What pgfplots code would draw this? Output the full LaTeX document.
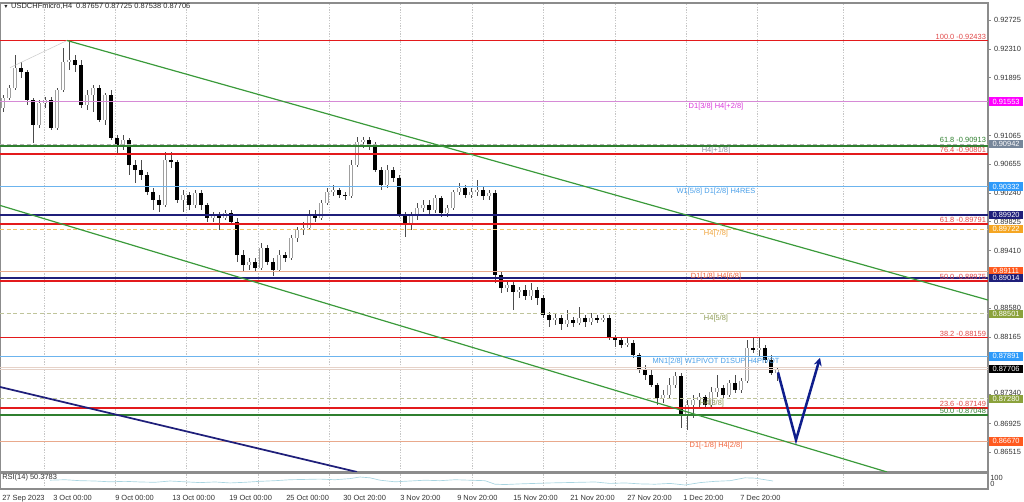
\documentclass[border=0pt]{standalone}
\usepackage{fontspec}
\setmainfont{Liberation Sans}
\usepackage{pgfplots}
\pgfplotsset{compat=1.18}
\usepackage{pgfplotstable}
\usetikzlibrary{arrows.meta}

\definecolor{lvlred}{HTML}{E31A1C}
\definecolor{fibred}{HTML}{E04848}
\definecolor{chgreen}{HTML}{3A9A3A}
\definecolor{fibgreen}{HTML}{2F7F2F}
\definecolor{navyline}{HTML}{1F1F7A}
\definecolor{skyline}{HTML}{6CB4EE}
\definecolor{skybox}{HTML}{2F9BFA}
\definecolor{skytext}{HTML}{4A9FE8}
\definecolor{orchidline}{HTML}{D68AD6}
\definecolor{magbox}{HTML}{FF00FF}
\definecolor{magtext}{HTML}{D936D9}
\definecolor{orgline}{HTML}{F2C46A}
\definecolor{orgbox}{HTML}{F5A623}
\definecolor{orgtext}{HTML}{EFA33A}
\definecolor{salmline}{HTML}{E9A98C}
\definecolor{redbox}{HTML}{FF5A1F}
\definecolor{redtext}{HTML}{F0643C}
\definecolor{oliveline}{HTML}{BFC49A}
\definecolor{olivebox}{HTML}{8BA23C}
\definecolor{olivetext}{HTML}{8E9C55}
\definecolor{grayline}{HTML}{B4B4B4}
\definecolor{graybox}{HTML}{76869A}
\definecolor{graytext}{HTML}{8A8FA0}
\definecolor{curline}{HTML}{E6D2C8}
\definecolor{rsiline}{HTML}{A8D4E0}
\definecolor{arrowblue}{HTML}{0F1E8C}
\definecolor{framegray}{HTML}{8C8C8C}

\newcommand\lbl{\fontsize{5.6}{6}\selectfont}

% H4 candles, two bars per row
\pgfplotstableread{
o h l c
0.9146 0.9165 0.9140 0.9160
0.9160 0.9179 0.9158 0.9175
0.9175 0.9222 0.9172 0.9204
0.9204 0.9212 0.9189 0.9198
0.9198 0.9201 0.9150 0.9158
0.9158 0.9160 0.9096 0.9122
0.9122 0.9158 0.9117 0.9153
0.9153 0.9162 0.9146 0.9158
0.9158 0.9162 0.9114 0.9117
0.9117 0.9175 0.9114 0.9172
0.9172 0.9232 0.9169 0.9212
0.9212 0.9243 0.9201 0.9215
0.9215 0.9222 0.9198 0.9208
0.9208 0.9215 0.9146 0.9150
0.9150 0.9172 0.9143 0.9165
0.9165 0.9179 0.9140 0.9175
0.9175 0.9179 0.9126 0.9129
0.9129 0.9168 0.9122 0.9165
0.9165 0.9172 0.9100 0.9103
0.9103 0.9107 0.9081 0.9093
0.9093 0.9107 0.9086 0.9100
0.9100 0.9103 0.9050 0.9064
0.9064 0.9071 0.9038 0.9057
0.9057 0.9071 0.9043 0.9050
0.9050 0.9054 0.9021 0.9025
0.9025 0.9031 0.8999 0.9014
0.9014 0.9021 0.8997 0.9007
0.9007 0.9083 0.9004 0.9071
0.9071 0.9083 0.9060 0.9068
0.9068 0.9071 0.9010 0.9014
0.9014 0.9028 0.8997 0.9021
0.9021 0.9025 0.8999 0.9007
0.9007 0.9028 0.9002 0.9024
0.9024 0.9028 0.8999 0.9007
0.9007 0.9010 0.8982 0.8988
0.8988 0.8997 0.8982 0.8992
0.8992 0.8997 0.8971 0.8988
0.8988 0.8999 0.8985 0.8995
0.8995 0.8999 0.8978 0.8982
0.8982 0.8988 0.8925 0.8935
0.8935 0.8942 0.8910 0.8920
0.8920 0.8930 0.8913 0.8925
0.8925 0.8930 0.8910 0.8916
0.8916 0.8952 0.8913 0.8945
0.8945 0.8949 0.8920 0.8925
0.8925 0.8930 0.8905 0.8913
0.8913 0.8942 0.8910 0.8935
0.8935 0.8939 0.8925 0.8930
0.8930 0.8964 0.8928 0.8959
0.8959 0.8975 0.8953 0.8971
0.8971 0.8982 0.8964 0.8974
0.8974 0.8999 0.8971 0.8992
0.8992 0.8999 0.8982 0.8988
0.8988 0.9014 0.8985 0.9010
0.9010 0.9031 0.9007 0.9025
0.9025 0.9035 0.9020 0.9028
0.9028 0.9031 0.9017 0.9021
0.9021 0.9025 0.9014 0.9020
0.9020 0.9071 0.9017 0.9064
0.9064 0.9104 0.9061 0.9097
0.9097 0.9104 0.9089 0.9100
0.9100 0.9104 0.9086 0.9093
0.9093 0.9097 0.9054 0.9057
0.9057 0.9061 0.9028 0.9035
0.9035 0.9064 0.9031 0.9057
0.9057 0.9061 0.9040 0.9045
0.9045 0.9050 0.8989 0.8992
0.8992 0.8997 0.8961 0.8978
0.8978 0.8997 0.8971 0.8992
0.8992 0.9010 0.8985 0.9002
0.9002 0.9014 0.8997 0.9007
0.9007 0.9014 0.8992 0.8999
0.8999 0.9021 0.8995 0.9017
0.9017 0.9020 0.8989 0.8995
0.8995 0.9007 0.8989 0.9002
0.9002 0.9028 0.8999 0.9025
0.9025 0.9038 0.9021 0.9031
0.9031 0.9035 0.9017 0.9021
0.9021 0.9031 0.9017 0.9025
0.9025 0.9043 0.9020 0.9028
0.9028 0.9033 0.9014 0.9020
0.9020 0.9028 0.9014 0.9024
0.9024 0.9028 0.8895 0.8906
0.8906 0.8910 0.8880 0.8887
0.8887 0.8899 0.8882 0.8892
0.8892 0.8899 0.8856 0.8882
0.8882 0.8889 0.8873 0.8884
0.8884 0.8892 0.8870 0.8876
0.8876 0.8895 0.8870 0.8884
0.8884 0.8889 0.8863 0.8873
0.8873 0.8877 0.8844 0.8848
0.8848 0.8853 0.8831 0.8841
0.8841 0.8851 0.8834 0.8844
0.8844 0.8848 0.8827 0.8836
0.8836 0.8856 0.8831 0.8841
0.8841 0.8846 0.8831 0.8837
0.8837 0.8860 0.8834 0.8844
0.8844 0.8848 0.8831 0.8838
0.8838 0.8851 0.8834 0.8844
0.8844 0.8848 0.8837 0.8841
0.8841 0.8848 0.8838 0.8844
0.8844 0.8848 0.8813 0.8815
0.8815 0.8820 0.8803 0.8813
0.8813 0.8817 0.8801 0.8805
0.8805 0.8815 0.8803 0.8808
0.8808 0.8813 0.8787 0.8791
0.8791 0.8794 0.8765 0.8769
0.8769 0.8777 0.8755 0.8762
0.8762 0.8769 0.8745 0.8748
0.8748 0.8751 0.8719 0.8729
0.8729 0.8741 0.8722 0.8733
0.8733 0.8758 0.8729 0.8748
0.8748 0.8767 0.8744 0.8761
0.8761 0.8765 0.8686 0.8705
0.8705 0.8726 0.8683 0.8719
0.8719 0.8733 0.8700 0.8726
0.8726 0.8736 0.8716 0.8731
0.8731 0.8733 0.8715 0.8719
0.8719 0.8745 0.8716 0.8738
0.8738 0.8762 0.8731 0.8744
0.8744 0.8748 0.8729 0.8733
0.8733 0.8755 0.8731 0.8751
0.8751 0.8762 0.8736 0.8741
0.8741 0.8758 0.8736 0.8754
0.8754 0.8813 0.8751 0.8801
0.8801 0.8817 0.8794 0.8798
0.8798 0.8817 0.8788 0.8801
0.8801 0.8805 0.8780 0.8784
0.8784 0.8791 0.8762 0.8765
0.87657 0.87725 0.87538 0.87706
}\candles

\tikzset{pbox/.style={anchor=west, inner sep=0pt, minimum height=6.4pt, minimum width=25.5pt,
  font=\lbl, text=white}}

\begin{document}
\begin{tikzpicture}
\useasboundingbox (0pt,0pt) rectangle (768pt,-375.75pt);

\begin{axis}[
  name=main, at={(0pt,-2.25pt)}, anchor=north west,
  scale only axis, width=741pt, height=351.75pt,
  xmin=0, xmax=988, ymin=0.862275, ymax=0.929694,
  axis line style={framegray, line width=0.8pt},
  xtick={44,115,186,258,329,400,472,543,615,686,757,843},
  xticklabels={}, xtick style={draw=none},
  xmajorgrids, major x grid style={gray!45, dash pattern=on 1pt off 1pt, line width=0.4pt},
  ytick={0.92725,0.92310,0.91895,0.91065,0.90655,0.90240,0.89825,0.89410,0.88995,0.88580,0.88165,0.86925,0.86515},
  yticklabels={0.92725,0.92310,0.91895,0.91065,0.90655,0.90240,0.89825,0.89410,0.88995,0.88580,0.88165,0.86925,0.86515},
  extra y ticks={0.87340}, extra y tick labels={0.87340},
  extra y tick style={yticklabel style={yshift=1.2pt}},
  ytick pos=right, yticklabel pos=right, tick align=outside,
  major tick length=2pt, ytick style={framegray, line width=0.4pt},
  yticklabel style={font=\lbl, text=black!80, anchor=west, xshift=-1pt},
]
% candles: wicks, then bear bodies, then hollow bull bodies
\addplot[draw=none, mark=none, error bars/.cd, y dir=both, y explicit, error mark=none,
  error bar style={draw=black!70, line width=0.45pt, line cap=butt, solid}]
  table[x expr=3+6*\coordindex, y=c, y error plus expr=\thisrow{h}-\thisrow{c},
        y error minus expr=\thisrow{c}-\thisrow{l}] {\candles};
\addplot[draw=none, mark=none, restrict expr to domain={\thisrow{o}-\thisrow{c}}{0.00001:1},
  error bars/.cd, y dir=plus, y explicit, error mark=none,
  error bar style={draw=black, line width=2.6pt, line cap=butt, solid}]
  table[x expr=3+6*\coordindex, y=c, y error plus expr=\thisrow{o}-\thisrow{c},
        y error minus expr=0] {\candles};
\addplot[draw=none, mark=none, restrict expr to domain={\thisrow{c}-\thisrow{o}}{0.00001:1},
  error bars/.cd, y dir=minus, y explicit, error mark=none,
  error bar style={draw=gray!75, line width=2.6pt, line cap=butt, solid}]
  table[x expr=3+6*\coordindex, y=c, y error plus expr=0,
        y error minus expr=\thisrow{c}-\thisrow{o}] {\candles};
\addplot[draw=none, mark=none, restrict expr to domain={\thisrow{c}-\thisrow{o}}{0.00001:1},
  error bars/.cd, y dir=minus, y explicit, error mark=none,
  error bar style={draw=white, line width=1.5pt, line cap=butt, solid}]
  table[x expr=3+6*\coordindex, y=c, y error plus expr=0,
        y error minus expr=\thisrow{c}-\thisrow{o}] {\candles};

% horizontal levels
\addplot[lvlred, line width=1.1pt] coordinates {(0,0.92433) (988,0.92433)};
\addplot[orchidline, line width=0.6pt] coordinates {(0,0.91553) (988,0.91553)};
\addplot[grayline, line width=0.6pt, dash pattern=on 3pt off 2pt] coordinates {(0,0.90942) (988,0.90942)};
\addplot[fibgreen, line width=1.0pt] coordinates {(0,0.90913) (988,0.90913)};
\addplot[lvlred, line width=1.1pt] coordinates {(0,0.90801) (988,0.90801)};
\addplot[skyline, line width=0.7pt] coordinates {(0,0.90332) (988,0.90332)};
\addplot[navyline, line width=1.5pt] coordinates {(0,0.89920) (988,0.89920)};
\addplot[lvlred, line width=1.1pt] coordinates {(0,0.89791) (988,0.89791)};
\addplot[orgline, line width=0.6pt, dash pattern=on 3pt off 2pt] coordinates {(0,0.89722) (988,0.89722)};
\addplot[salmline, line width=0.6pt] coordinates {(0,0.89111) (988,0.89111)};
\addplot[navyline, line width=1.5pt] coordinates {(0,0.89014) (988,0.89014)};
\addplot[lvlred, line width=1.1pt] coordinates {(0,0.88975) (988,0.88975)};
\addplot[oliveline, line width=0.6pt, dash pattern=on 3pt off 2pt] coordinates {(0,0.88501) (988,0.88501)};
\addplot[lvlred, line width=1.1pt] coordinates {(0,0.88159) (988,0.88159)};
\addplot[skyline, line width=0.7pt] coordinates {(0,0.87891) (988,0.87891)};
\addplot[curline, line width=0.6pt] coordinates {(0,0.87726) (988,0.87726)};
\addplot[curline, line width=0.6pt] coordinates {(0,0.87706) (988,0.87706)};
\addplot[oliveline, line width=0.6pt, dash pattern=on 3pt off 2pt] coordinates {(0,0.87280) (988,0.87280)};
\addplot[lvlred, line width=1.1pt] coordinates {(0,0.87149) (988,0.87149)};
\addplot[fibgreen, line width=1.0pt] coordinates {(0,0.87048) (988,0.87048)};
\addplot[salmline, line width=0.6pt] coordinates {(0,0.86670) (988,0.86670)};

% trend lines
\addplot[gray!40, line width=0.4pt] coordinates {(67,0.9243) (10,0.9204)};
\addplot[chgreen, line width=0.9pt] coordinates {(67,0.9243) (988,0.8870)};
\addplot[chgreen, line width=0.9pt] coordinates {(0,0.9006) (887,0.86228)};
\addplot[navyline, line width=1.3pt] coordinates {(0,0.8745) (357,0.86228)};

% projected move
\addplot[arrowblue, line width=1.9pt, -{Stealth[length=6pt,width=6pt]}]
  coordinates {(778,0.8766) (796,0.8669) (820,0.8787)};

% level captions
\node[font=\lbl, text=magtext, anchor=north, inner sep=0.8pt] at (axis cs:716,0.91553) {D1[3/8] H4[+2/8]};
\node[font=\lbl, text=graytext, anchor=north, inner sep=0.8pt] at (axis cs:716,0.90913) {H4[+1/8]};
\node[font=\lbl, text=skytext, anchor=north, inner sep=0.8pt] at (axis cs:716,0.90332) {W1[5/8] D1[2/8] H4RES};
\node[font=\lbl, text=orgtext, anchor=north, inner sep=0.8pt] at (axis cs:716,0.89722) {H4[7/8]};
\node[font=\lbl, text=redtext, anchor=north, inner sep=0.8pt] at (axis cs:716,0.89111) {D1[1/8] H4[6/8]};
\node[font=\lbl, text=olivetext, anchor=north, inner sep=0.8pt] at (axis cs:716,0.88501) {H4[5/8]};
\node[font=\lbl, text=skytext, anchor=north, inner sep=0.8pt] at (axis cs:716,0.87891) {MN1[2/8] W1PIVOT D1SUP H4PIVOT};
\node[font=\lbl, text=olivetext, anchor=north, inner sep=0.8pt] at (axis cs:712,0.87280) {H4[3/8]};
\node[font=\lbl, text=redtext, anchor=north, inner sep=0.8pt] at (axis cs:716,0.86670) {D1[-1/8] H4[2/8]};

\node[font=\lbl, text=fibred, anchor=south east, inner sep=0.6pt] at (axis cs:987,0.92433) {100.0 -0.92433};
\node[font=\lbl, text=fibgreen, anchor=south east, inner sep=0.6pt] at (axis cs:987,0.90942) {61.8 -0.90913};
\node[font=\lbl, text=fibred, anchor=south east, inner sep=0.6pt] at (axis cs:987,0.90801) {76.4 -0.90801};
\node[font=\lbl, text=fibred, anchor=south east, inner sep=0.6pt] at (axis cs:987,0.89791) {61.8 -0.89791};
\node[font=\lbl, text=fibred, anchor=south east, inner sep=0.6pt] at (axis cs:987,0.88975) {50.0 -0.88975};
\node[font=\lbl, text=fibred, anchor=south east, inner sep=0.6pt] at (axis cs:987,0.88159) {38.2 -0.88159};
\node[font=\lbl, text=fibred, anchor=south east, inner sep=0.6pt] at (axis cs:987,0.87149) {23.6 -0.87149};
\node[font=\lbl, text=fibgreen, anchor=south east, inner sep=0.6pt] at (axis cs:987,0.87048) {50.0 -0.87048};

% anchors for the price boxes on the scale
\coordinate (q1) at (axis cs:988,0.91553);
\coordinate (q2) at (axis cs:988,0.90942);
\coordinate (q3) at (axis cs:988,0.90332);
\coordinate (q4) at (axis cs:988,0.89920);
\coordinate (q5) at (axis cs:988,0.89722);
\coordinate (q6) at (axis cs:988,0.89111);
\coordinate (q7) at (axis cs:988,0.89014);
\coordinate (q8) at (axis cs:988,0.88501);
\coordinate (q9) at (axis cs:988,0.87891);
\coordinate (q10) at (axis cs:988,0.87706);
\coordinate (q11) at (axis cs:988,0.87280);
\coordinate (q12) at (axis cs:988,0.86670);
\end{axis}

\begin{axis}[
  name=rsi, at={(0pt,-354.75pt)}, anchor=north west,
  scale only axis, width=741pt, height=12pt,
  xmin=0, xmax=988, ymin=0, ymax=100,
  axis line style={framegray, line width=0.8pt},
  ytick=\empty,
  xtick={44,115,186,258,329,400,472,543,615,686,757,843},
  xticklabels={}, xtick style={draw=none},
  xmajorgrids, major x grid style={gray!45, dash pattern=on 1pt off 1pt, line width=0.4pt},
  extra x ticks={2,53,115,172,229,286,343,400,457,513,570,627,683,740},
  extra x tick labels={27 Sep 2023,3 Oct 00:00,9 Oct 00:00,13 Oct 00:00,19 Oct 00:00,25 Oct 00:00,30 Oct 20:00,3 Nov 20:00,9 Nov 20:00,15 Nov 20:00,21 Nov 20:00,27 Nov 20:00,1 Dec 20:00,7 Dec 20:00},
  extra x tick style={grid=none, tick align=outside, major tick length=2pt,
    tick style={draw=framegray, line width=0.4pt}},
  xticklabel style={font=\lbl, text=black!80, anchor=north west, inner xsep=0pt, yshift=0.5pt},
]
\addplot[rsiline, line width=0.5pt] coordinates {
 (50,55) (65,58) (80,52) (95,50) (110,45) (125,48) (140,44) (155,42) (170,50) (185,45)
 (200,40) (215,44) (230,38) (245,42) (260,48) (275,52) (290,58) (305,60) (320,62) (335,58)
 (350,65) (360,75) (370,70) (380,55) (395,45) (410,50) (425,55) (440,52) (455,58) (470,55)
 (485,52) (495,30) (505,28) (520,32) (535,35) (550,38) (565,40) (580,42) (595,44) (610,35)
 (625,38) (640,32) (655,30) (670,35) (685,25) (700,40) (715,48) (730,52) (745,70) (755,68)
 (765,58) (773,50)};
\end{axis}

% price boxes on the right scale
\node[pbox, fill=magbox] at ([xshift=0.6pt]q1) {0.91553};
\node[pbox, fill=graybox] at ([xshift=0.6pt]q2) {0.90942};
\node[pbox, fill=skybox] at ([xshift=0.6pt]q3) {0.90332};
\node[pbox, fill=navyline] at ([xshift=0.6pt]q4) {0.89920};
\node[pbox, fill=orgbox] at ([xshift=0.6pt]q5) {0.89722};
\node[pbox, fill=redbox] at ([xshift=0.6pt]q6) {0.89111};
\node[pbox, fill=navyline] at ([xshift=0.6pt]q7) {0.89014};
\node[pbox, fill=olivebox] at ([xshift=0.6pt]q8) {0.88501};
\node[pbox, fill=skybox] at ([xshift=0.6pt]q9) {0.87891};
\node[pbox, fill=black] at ([xshift=0.6pt]q10) {0.87706};
\node[pbox, fill=olivebox] at ([xshift=0.6pt]q11) {0.87280};
\node[pbox, fill=redbox] at ([xshift=0.6pt]q12) {0.86670};

% header and sub-window captions
\node[anchor=west, inner sep=0pt, font=\lbl, text=black!85] at (2.25pt,-4.5pt)
  {{\fontsize{4}{4}\selectfont ▼}\hspace{2pt}USDCHFmicro,H4\hspace{3pt}0.87657 0.87725 0.87538 0.87706};
\node[anchor=west, inner sep=0pt, font=\lbl, text=black!80] at (1.5pt,-358.5pt) {RSI(14) 50.3783};
\node[anchor=west, inner sep=0pt, font=\lbl, text=black!80] at (742.5pt,-358.5pt) {100};
\node[anchor=west, inner sep=0pt, font=\lbl, text=black!80] at (742.5pt,-362.8pt) {0};
\end{tikzpicture}
\end{document}
